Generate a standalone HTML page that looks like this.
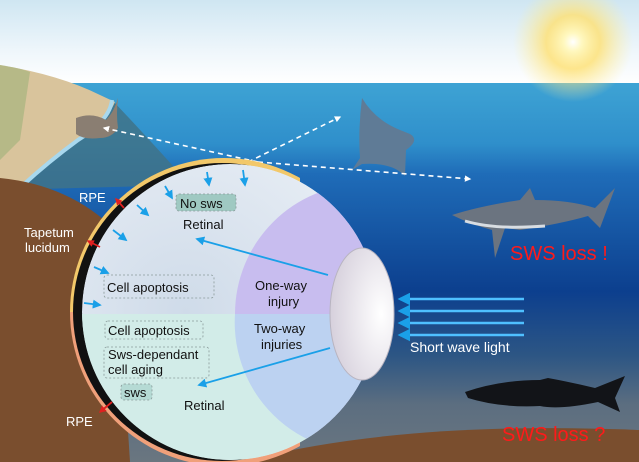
<!DOCTYPE html>
<html><head><meta charset="utf-8"><style>
html,body{margin:0;padding:0;width:639px;height:462px;overflow:hidden;background:#fff}
svg{display:block}
text{font-family:"Liberation Sans",sans-serif}
</style></head><body>
<svg width="639" height="462" viewBox="0 0 639 462" xmlns="http://www.w3.org/2000/svg">
<defs>
<linearGradient id="sky" x1="0" y1="0" x2="0" y2="1"><stop offset="0" stop-color="#cfe6f2"/><stop offset="0.6" stop-color="#eef6fb"/><stop offset="1" stop-color="#ffffff"/></linearGradient>
<linearGradient id="sea" x1="0" y1="0" x2="0" y2="1">
<stop offset="0" stop-color="#3ea3d4"/><stop offset="0.16" stop-color="#2f8fcb"/><stop offset="0.24" stop-color="#1f6cb8"/><stop offset="0.55" stop-color="#0c3f8e"/><stop offset="0.72" stop-color="#2d5684"/><stop offset="0.85" stop-color="#5c6e80"/><stop offset="1" stop-color="#6a7680"/></linearGradient>
<radialGradient id="sun" cx="0.5" cy="0.5" r="0.5"><stop offset="0" stop-color="#ffffff"/><stop offset="0.15" stop-color="#fff8c0"/><stop offset="0.45" stop-color="#ffe070" stop-opacity="0.8"/><stop offset="1" stop-color="#fff0a0" stop-opacity="0"/></radialGradient>
<radialGradient id="up" cx="0.35" cy="0.5" r="0.7"><stop offset="0" stop-color="#cfdbe9"/><stop offset="1" stop-color="#e8eef5"/></radialGradient>
<clipPath id="eye"><circle cx="230" cy="312" r="148"/></clipPath>
<radialGradient id="lens" cx="0.8" cy="0.5" r="0.8"><stop offset="0" stop-color="#ffffff"/><stop offset="1" stop-color="#d6d0dc"/></radialGradient>
<marker id="ab" viewBox="0 0 10 10" refX="8" refY="5" markerWidth="5" markerHeight="5" orient="auto"><path d="M0,0L10,5L0,10z" fill="#1aa0e8"/></marker>
<marker id="aw" viewBox="0 0 10 10" refX="8" refY="5" markerWidth="4" markerHeight="4" orient="auto"><path d="M0,0L10,5L0,10z" fill="#fff"/></marker>
<marker id="ar" viewBox="0 0 10 10" refX="8" refY="5" markerWidth="4" markerHeight="4" orient="auto"><path d="M0,0L10,5L0,10z" fill="#e02020"/></marker>
</defs>
<rect width="639" height="84" fill="url(#sky)"/>
<rect y="83" width="639" height="379" fill="url(#sea)"/>
<circle cx="573" cy="42" r="60" fill="url(#sun)"/>
<!-- shallow water -->
<path d="M0,160 L112,100 Q150,140 190,185 L0,190Z" fill="#3f7388" opacity="0.85"/>
<!-- beach -->
<path d="M0,65 Q60,75 100,95 L115,102 Q105,125 80,138 Q50,160 20,185 L0,190Z" fill="#d9c49c"/>
<path d="M0,65 Q20,68 30,72 L20,140 L0,160Z" fill="#9fb27a" opacity="0.6"/>
<path d="M112,100 Q110,120 78,140 Q48,162 22,186" stroke="#a8d8ee" stroke-width="4" fill="none"/>
<!-- seabed left -->
<path d="M0,178 Q70,185 115,230 L130,462 L0,462Z" fill="#7a4e2e"/>
<path d="M240,462 Q400,420 639,430 L639,462Z" fill="#7a4e2e"/>
<!-- stingray -->
<path d="M76,118 Q92,112 106,120 Q114,112 118,98 Q116,114 118,128 Q112,138 100,138 Q84,140 76,134Z" fill="#8a7e72"/>
<!-- manta -->
<path d="M362,98 Q375,120 400,130 L410,134 Q420,140 406,150 L405,176 Q392,162 362,164 L352,170 L360,158 Q358,130 362,98Z" fill="#5f7b96"/>
<!-- dashed -->
<g stroke="#fff" stroke-width="1.6" stroke-dasharray="5,4" fill="none">
<line x1="258" y1="162" x2="104" y2="128" marker-end="url(#aw)"/>
<line x1="248" y1="162" x2="340" y2="117" marker-end="url(#aw)"/>
<line x1="258" y1="162" x2="470" y2="179" marker-end="url(#aw)"/>
</g>
<!-- shark -->
<path d="M452,215 Q480,206 520,200 L530,188 L535,200 Q570,200 595,208 L615,188 L606,212 L600,228 L588,216 Q560,224 520,230 L505,228 L495,258 L492,230 Q470,224 452,215Z" fill="#6b7480"/>
<path d="M465,221 Q495,230 545,226" stroke="#d8dde2" stroke-width="3" fill="none"/>
<!-- dark shark -->
<path d="M465,392 Q500,380 540,380 L548,378 Q570,382 595,388 L625,376 L615,398 L620,412 L598,402 Q560,410 540,406 Q500,408 468,398Z" fill="#121418"/>
<!-- eye -->
<clipPath id="lh"><rect x="0" y="0" width="300" height="462"/></clipPath>
<g clip-path="url(#lh)">
<path d="M70,312 A154,154 0 0 1 378,312Z" fill="#f2c86a"/>
<path d="M70,312 A154,154 0 0 0 378,312Z" fill="#f0a07a"/>
</g>
<circle cx="222" cy="312" r="149" fill="#111" clip-path="url(#lh)"/>
<g clip-path="url(#eye)">
<circle cx="230" cy="312" r="148" fill="url(#up)"/>
<rect x="60" y="314" width="330" height="160" fill="#d2ece8"/>
<circle cx="365" cy="314" r="130" fill="#c8bdef"/>
<path d="M235,314 L390,314 L390,450 A130,130 0 0 1 235,314Z" fill="#bcd2f1"/>
</g>
<ellipse cx="362" cy="314" rx="32" ry="66" fill="url(#lens)" stroke="#b8b4c0" stroke-width="1"/>
<!-- small arrows -->
<g stroke="#1aa0e8" stroke-width="1.8" marker-end="url(#ab)">
<line x1="207" y1="172" x2="209" y2="185"/><line x1="243" y1="170" x2="245" y2="185"/>
<line x1="165" y1="186" x2="172" y2="198"/><line x1="137" y1="205" x2="148" y2="215"/>
<line x1="113" y1="230" x2="126" y2="240"/><line x1="94" y1="267" x2="108" y2="273"/>
<line x1="84" y1="303" x2="100" y2="305"/>
<line x1="328" y1="275" x2="197" y2="239"/><line x1="330" y1="348" x2="199" y2="385"/>
</g>
<!-- boxes -->
<g stroke="#8a9a9a" stroke-dasharray="2,2" stroke-width="0.8">
<rect x="176" y="194" width="60" height="17" rx="3" fill="#9fc9c2"/>
<rect x="104" y="275" width="110" height="23" rx="3" fill="none"/>
<rect x="105" y="321" width="98" height="18" rx="3" fill="none"/>
<rect x="104" y="347" width="105" height="31" rx="3" fill="none"/>
<rect x="121" y="384" width="31" height="16" rx="3" fill="#b5dad4"/>
</g>
<g fill="#111" font-size="13">
<text x="180" y="208">No sws</text>
<text x="183" y="229">Retinal</text>
<text x="107" y="292">Cell apoptosis</text>
<text x="255" y="290">One-way</text>
<text x="268" y="306">injury</text>
<text x="108" y="335">Cell apoptosis</text>
<text x="254" y="333">Two-way</text>
<text x="261" y="349">injuries</text>
<text x="108" y="359">Sws-dependant</text>
<text x="108" y="374">cell aging</text>
<text x="124" y="397">sws</text>
<text x="184" y="410">Retinal</text>
</g>
<!-- red pointers -->
<g stroke="#e02020" stroke-width="1.8" marker-end="url(#ar)">
<line x1="124" y1="208" x2="116" y2="199"/><line x1="100" y1="247" x2="88" y2="241"/><line x1="112" y1="402" x2="100" y2="412"/>
</g>
<g fill="#fff" font-size="13">
<text x="79" y="202">RPE</text>
<text x="24" y="237">Tapetum</text>
<text x="25" y="252">lucidum</text>
<text x="66" y="426">RPE</text>
</g>
<!-- short wave -->
<g stroke="#4fc0ff" stroke-width="2.5" marker-end="url(#ab)">
<line x1="524" y1="299" x2="400" y2="299"/><line x1="524" y1="311" x2="400" y2="311"/>
<line x1="524" y1="323" x2="400" y2="323"/><line x1="524" y1="335" x2="400" y2="335"/>
</g>
<text x="410" y="352" fill="#fff" font-size="14">Short wave light</text>
<text x="510" y="260" fill="#ff1a1a" font-size="20">SWS loss !</text>
<text x="502" y="441" fill="#ff1a1a" font-size="20">SWS loss ?</text>
</svg>
</body></html>
